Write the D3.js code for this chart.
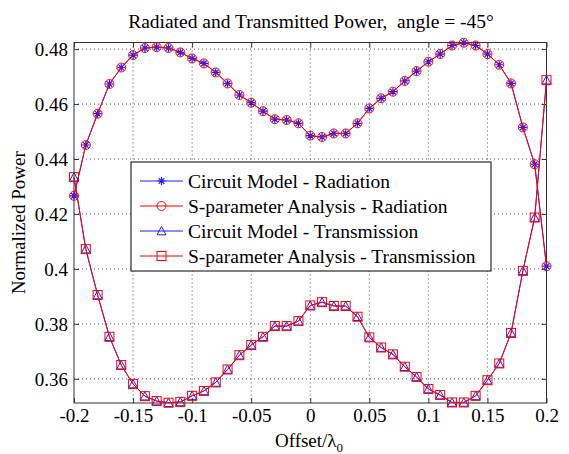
<!DOCTYPE html>
<html>
<head>
<meta charset="utf-8">
<script src="https://cdn.jsdelivr.net/npm/d3@7/dist/d3.min.js"></script>
<style>
  html, body { margin: 0; padding: 0; background: #fff; }
  svg { display: block; }
  text { font-family: "Liberation Serif", "Times New Roman", serif; fill: #000; white-space: pre; }
</style>
</head>
<body>
<svg id="chart" width="569" height="454"></svg>
<script>
// ---------------- data ----------------
const offsets = [-0.20,-0.19,-0.18,-0.17,-0.16,-0.15,-0.14,-0.13,-0.12,-0.11,-0.10,-0.09,-0.08,-0.07,-0.06,-0.05,-0.04,-0.03,-0.02,-0.01,
                 0.00,0.01,0.02,0.03,0.04,0.05,0.06,0.07,0.08,0.09,0.10,0.11,0.12,0.13,0.14,0.15,0.16,0.17,0.18,0.19,0.20];

const circuitRadiation = [0.4266,0.4451,0.4565,0.4673,0.4733,0.4778,0.4804,0.4807,0.4804,0.4788,0.4766,0.4748,0.4715,0.4675,0.4633,0.4605,0.4574,0.4545,0.4542,0.4530,
                          0.4485,0.4480,0.4493,0.4493,0.4530,0.4584,0.4621,0.4645,0.4684,0.4720,0.4754,0.4782,0.4813,0.4823,0.4813,0.4782,0.4743,0.4675,0.4515,0.4381,0.4010];
const sparamRadiation  = [0.4266,0.4451,0.4565,0.4673,0.4733,0.4778,0.4804,0.4807,0.4804,0.4788,0.4766,0.4748,0.4715,0.4675,0.4633,0.4605,0.4574,0.4545,0.4542,0.4530,
                          0.4485,0.4480,0.4493,0.4493,0.4530,0.4584,0.4621,0.4645,0.4684,0.4720,0.4754,0.4782,0.4813,0.4823,0.4813,0.4782,0.4743,0.4675,0.4515,0.4381,0.4010];
const circuitTransmission = [0.4334,0.4072,0.3905,0.3753,0.3650,0.3581,0.3537,0.3519,0.3513,0.3516,0.3538,0.3556,0.3587,0.3634,0.3686,0.3723,0.3753,0.3792,0.3792,0.3810,
                             0.3867,0.3879,0.3865,0.3865,0.3826,0.3751,0.3714,0.3689,0.3644,0.3607,0.3563,0.3541,0.3514,0.3514,0.3538,0.3595,0.3656,0.3767,0.3993,0.4187,0.4687];
const sparamTransmission  = [0.4334,0.4072,0.3905,0.3753,0.3650,0.3581,0.3537,0.3519,0.3513,0.3516,0.3538,0.3556,0.3587,0.3634,0.3686,0.3723,0.3753,0.3792,0.3792,0.3810,
                             0.3867,0.3879,0.3865,0.3865,0.3826,0.3751,0.3714,0.3689,0.3644,0.3607,0.3563,0.3541,0.3514,0.3514,0.3538,0.3595,0.3656,0.3767,0.3993,0.4187,0.4687];

const xTicks = [-0.2,-0.15,-0.1,-0.05,0,0.05,0.1,0.15,0.2];
const xTickLabels = ["-0.2","-0.15","-0.1","-0.05","0","0.05","0.1","0.15","0.2"];
const yTicks = [0.36,0.38,0.40,0.42,0.44,0.46,0.48];
const yTickLabels = ["0.36","0.38","0.4","0.42","0.44","0.46","0.48"];

const seriesNames = ["Circuit Model - Radiation","S-parameter Analysis - Radiation","Circuit Model - Transmission","S-parameter Analysis - Transmission"];
const titleText = "Radiated and Transmitted Power,  angle = -45°";

// ---------------- layout ----------------
const L = 74, R = 546.5, T = 42.5, B = 403;
const svg = d3.select("#chart");
const x = d3.scaleLinear().domain([-0.2, 0.2]).range([L, R]);
const y = d3.scaleLinear().domain([0.3512, 0.4824]).range([B, T]);

const BLUE = "#1a1aff", RED = "#ff0000";

// grid
const grid = svg.append("g").attr("stroke", "#222").attr("stroke-width", 0.8).attr("stroke-dasharray", "1,3");
grid.selectAll("line.gx").data(xTicks.slice(1, -1)).enter().append("line")
  .attr("x1", d => x(d)).attr("x2", d => x(d)).attr("y1", T).attr("y2", B);
grid.selectAll("line.gy").data(yTicks).enter().append("line")
  .attr("x1", L).attr("x2", R).attr("y1", d => y(d)).attr("y2", d => y(d));

// axes (inward ticks on all sides)
const tickLen = 5;
const axB = svg.append("g").attr("transform", `translate(0,${B})`)
  .call(d3.axisBottom(x).tickValues(xTicks).tickSize(-tickLen).tickPadding(8).tickFormat((d,i) => xTickLabels[i]));
const axT = svg.append("g").attr("transform", `translate(0,${T})`)
  .call(d3.axisTop(x).tickValues(xTicks).tickSize(-tickLen).tickFormat(""));
const axL = svg.append("g").attr("transform", `translate(${L},0)`)
  .call(d3.axisLeft(y).tickValues(yTicks).tickSize(-tickLen).tickPadding(6).tickFormat((d,i) => yTickLabels[i]));
const axR = svg.append("g").attr("transform", `translate(${R},0)`)
  .call(d3.axisRight(y).tickValues(yTicks).tickSize(-tickLen).tickFormat(""));
[axB, axT, axL, axR].forEach(a => {
  a.attr("font-family", null);
  a.select(".domain").remove();
  a.selectAll(".tick line").attr("stroke", "#333");
  a.selectAll("text").attr("font-size", 19).attr("fill", "#000");
});
axB.selectAll(".tick text").attr("dy", null).attr("y", 19);
axL.selectAll(".tick text").attr("dy", "0.34em");

// box
svg.append("rect").attr("x", L).attr("y", T).attr("width", R - L).attr("height", B - T)
  .attr("fill", "none").attr("stroke", "#333").attr("stroke-width", 1);

// markers
const S = 4.5;
function drawMarker(g, type, color, cx, cy) {
  if (type === "star") {
    const p = g.append("path").attr("stroke", color).attr("stroke-width", 1.2).attr("fill", "none");
    const a = S * 0.9, b = a * 0.7;
    p.attr("d", `M${cx},${cy - a}L${cx},${cy + a}M${cx - a},${cy}L${cx + a},${cy}M${cx - b},${cy - b}L${cx + b},${cy + b}M${cx - b},${cy + b}L${cx + b},${cy - b}`);
  } else if (type === "circle") {
    g.append("circle").attr("cx", cx).attr("cy", cy).attr("r", S).attr("fill", "none").attr("stroke", color).attr("stroke-width", 1);
  } else if (type === "triangle") {
    const h = S;
    g.append("path").attr("d", `M${cx},${cy - h}L${cx + h},${cy + h * 0.85}L${cx - h},${cy + h * 0.85}Z`)
      .attr("fill", "none").attr("stroke", color).attr("stroke-width", 1);
  } else if (type === "square") {
    g.append("rect").attr("x", cx - S).attr("y", cy - S).attr("width", 2 * S).attr("height", 2 * S)
      .attr("fill", "none").attr("stroke", color).attr("stroke-width", 1);
  }
}

const series = [
  { name: seriesNames[0], values: circuitRadiation, color: BLUE, marker: "star" },
  { name: seriesNames[1], values: sparamRadiation, color: RED, marker: "circle" },
  { name: seriesNames[2], values: circuitTransmission, color: BLUE, marker: "triangle" },
  { name: seriesNames[3], values: sparamTransmission, color: RED, marker: "square" }
];

const line = d3.line().x(d => x(d[0])).y(d => y(d[1]));
series.forEach(s => {
  const pts = offsets.map((o, i) => [o, s.values[i]]);
  const g = svg.append("g");
  g.append("path").attr("d", line(pts)).attr("fill", "none").attr("stroke", s.color).attr("stroke-width", 1);
  pts.forEach(p => drawMarker(g, s.marker, s.color, x(p[0]), y(p[1])));
});

// legend
const lg = svg.append("g");
const lgX = 131, lgY = 162, lgW = 360, lgH = 109;
lg.append("rect").attr("x", lgX).attr("y", lgY).attr("width", lgW).attr("height", lgH)
  .attr("fill", "#fff").attr("stroke", "#000").attr("stroke-width", 1);
series.forEach((s, i) => {
  const cy = 181 + i * 25;
  lg.append("line").attr("x1", 140).attr("x2", 183).attr("y1", cy).attr("y2", cy).attr("stroke", s.color).attr("stroke-width", 1);
  drawMarker(lg, s.marker, s.color, 161.5, cy);
  lg.append("text").attr("x", 188).attr("y", cy).attr("dy", "0.34em")
    .attr("font-size", 19.5).text(s.name);
});

// title
svg.append("text").attr("x", 311).attr("y", 28).attr("text-anchor", "middle")
  .attr("font-size", 19.5).text(titleText);

// x label
const xl = svg.append("text").attr("x", 309).attr("y", 447).attr("text-anchor", "middle").attr("font-size", 19);
xl.append("tspan").text("Offset/λ");
xl.append("tspan").attr("font-size", 13).attr("dy", 5).text("0");

// y label
svg.append("text").attr("transform", `translate(25,${(T + B) / 2}) rotate(-90)`)
  .attr("text-anchor", "middle").attr("font-size", 19).text("Normalized Power");
</script>
</body>
</html>
